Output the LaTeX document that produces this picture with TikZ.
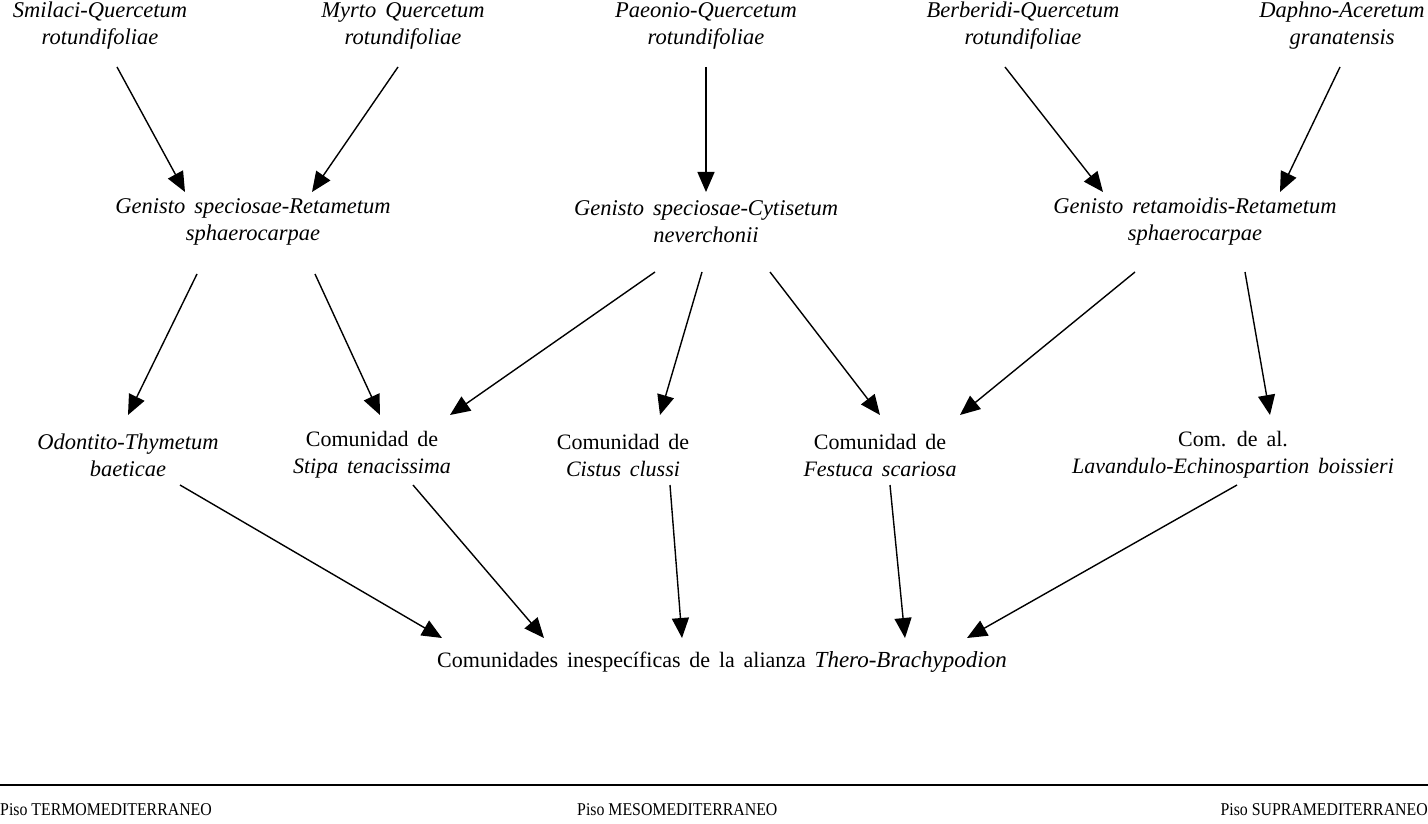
\documentclass[tikz,border=0pt]{standalone}
\usepackage{fontspec}
\setmainfont{Liberation Serif}
\newfontfamily\lbfont{Liberation Serif}[WordSpace=1.6]
\newfontfamily\ftfont{Liberation Serif}[FakeStretch=0.88]
\usetikzlibrary{arrows.meta,calc}
\begin{document}
\begin{tikzpicture}[x=1pt,y=-1pt,
  lbl/.style={align=center,inner sep=0pt,font=\lbfont\fontsize{22.5}{27}\selectfont\itshape},
  rlbl/.style={align=center,inner sep=0pt,font=\lbfont\fontsize{22}{27}\selectfont},
  foot/.style={inner sep=0pt,font=\ftfont\fontsize{18}{20}\selectfont},
  arr/.style={-{Triangle[length=20pt,width=17pt]},line width=1.4pt}]
\useasboundingbox (0,0) rectangle (1428,824);
% top row
\node[lbl] (smi) at (100,26) {Smilaci-Quercetum\\rotundifoliae};
\node[lbl] (myr) at (403,26) {Myrto Quercetum\\rotundifoliae};
\node[lbl] (pae) at (706,26) {Paeonio-Quercetum\\rotundifoliae};
\node[lbl] (ber) at (1023,26) {Berberidi-Quercetum\\rotundifoliae};
\node[lbl] (dap) at (1342,26) {Daphno-Aceretum\\granatensis};
% second row
\node[lbl] (g1) at (253,222) {Genisto speciosae-Retametum\\sphaerocarpae};
\node[lbl] (g2) at (706,222) {Genisto speciosae-Cytisetum\\neverchonii};
\node[lbl] (g3) at (1195,222) {Genisto retamoidis-Retametum\\sphaerocarpae};
% third row
\node[lbl] (odo) at (128,455) {Odontito-Thymetum\\baeticae};
\node[rlbl] (sti) at (372,455) {Comunidad de\\\textit{Stipa tenacissima}};
\node[rlbl] (cis) at (623,455) {Comunidad de\\\textit{Cistus clussi}};
\node[rlbl] (fes) at (880,455) {Comunidad de\\\textit{Festuca scariosa}};
\node[rlbl] (com) at (1233,455) {Com. de al.\\\textit{Lavandulo-Echinospartion boissieri}};
% bottom
\node[rlbl] (bot) at (722,662) {Comunidades inespecíficas de la alianza \textit{\fontsize{23}{27}\selectfont Thero-Brachypodion}};
% arrows
\draw[arr] ($(smi)+(17,41)$) -- ($(g1)+(-68,-30)$);
\draw[arr] ($(myr)+(-5,41)$) -- ($(g1)+(59,-30)$);
\draw[arr] ($(pae)+(0,41)$) -- ($(g2)+(0,-30)$);
\draw[arr] ($(ber)+(-18,41)$) -- ($(g3)+(-92,-30)$);
\draw[arr] ($(dap)+(-2,41)$) -- ($(g3)+(85,-30)$);
\draw[arr] ($(g1)+(-56,52)$) -- ($(odo)+(0,-40)$);
\draw[arr] ($(g1)+(62,52)$) -- ($(sti)+(8,-40)$);
\draw[arr] ($(g2)+(-51,50)$) -- ($(sti)+(78,-40)$);
\draw[arr] ($(g2)+(-4,50)$) -- ($(cis)+(37,-40)$);
\draw[arr] ($(g2)+(64,50)$) -- ($(fes)+(0,-40)$);
\draw[arr] ($(g3)+(-60,50)$) -- ($(fes)+(80,-40)$);
\draw[arr] ($(g3)+(50,50)$) -- ($(com)+(37,-40)$);
\draw[arr] ($(odo)+(52,30)$) -- ($(bot)+(-280,-24)$);
\draw[arr] ($(sti)+(41,30)$) -- ($(bot)+(-178,-24)$);
\draw[arr] ($(cis)+(47,30)$) -- ($(bot)+(-40,-24)$);
\draw[arr] ($(fes)+(10,30)$) -- ($(bot)+(183,-24)$);
\draw[arr] ($(com)+(4,30)$) -- ($(bot)+(245,-24)$);
% footer
\coordinate (l0) at (0,785);
\coordinate (l1) at (1428,785);
\draw[line width=1.6pt] (l0) -- (l1);
\node[foot,anchor=west] (f1) at (0,810) {Piso TERMOMEDITERRANEO};
\node[foot,anchor=west] (f2) at (577,810) {Piso MESOMEDITERRANEO};
\node[foot,anchor=east] (f3) at (1428,810) {Piso SUPRAMEDITERRANEO};
\end{tikzpicture}
\end{document}
